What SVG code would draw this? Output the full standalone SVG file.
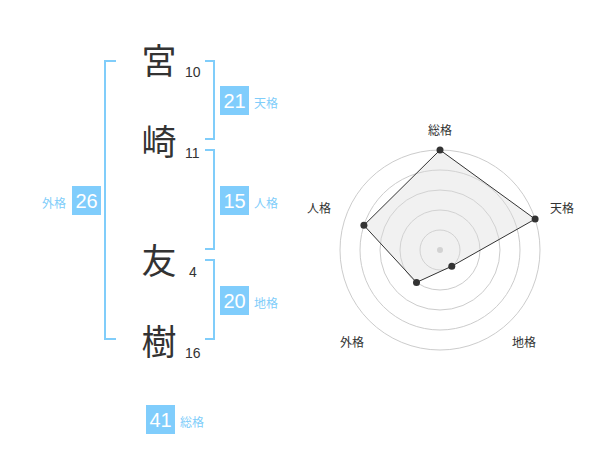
<svg xmlns="http://www.w3.org/2000/svg" width="600" height="470" viewBox="0 0 600 470">
<style>
.k{font-family:"Noto Sans CJK JP","Noto Sans CJK SC",sans-serif;font-size:35px;fill:#333;text-anchor:middle}
.n{font-family:"Liberation Sans",Arial,sans-serif;font-size:14px;fill:#333}
.br{fill:none;stroke:#80cdfa;stroke-width:2}
.box{fill:#80cdfc}
.bv{font-family:"Liberation Sans",Arial,sans-serif;font-size:20px;fill:#fff;text-anchor:middle}
.bl{font-family:"Noto Sans CJK JP","Noto Sans CJK SC",sans-serif;font-size:12px;fill:#80cdfa}
.rl{font-family:"Noto Sans CJK JP","Noto Sans CJK SC",sans-serif;font-size:12px;fill:#333;text-anchor:middle}
.ring{fill:none;stroke:#ccc;stroke-width:1}
</style>
<rect width="600" height="470" fill="#fff"/>
<g id="name">
<text class="k" x="159" y="74">宮</text><text class="n" x="185" y="77">10</text>
<text class="k" x="159" y="155">崎</text><text class="n" x="185" y="158">11</text>
<text class="k" x="159" y="274">友</text><text class="n" x="189" y="277">4</text>
<text class="k" x="159" y="355">樹</text><text class="n" x="185" y="358">16</text>
</g>
<g id="brackets">
<path class="br" d="M116,61 H105 V339 H116"/>
<path class="br" d="M205,61 H214 V139 H205"/>
<path class="br" d="M205,150 H214 V249 H205"/>
<path class="br" d="M205,260 H214 V339 H205"/>
</g>
<g id="tenkaku"><rect class="box" x="220" y="86" width="29" height="29"/><text class="bv" x="234.5" y="108">21</text><text class="bl" x="254" y="108">天格</text></g>
<g id="jinkaku"><rect class="box" x="220" y="186" width="29" height="29"/><text class="bv" x="234.5" y="208">15</text><text class="bl" x="254" y="208">人格</text></g>
<g id="chikaku"><rect class="box" x="220" y="286" width="29" height="29"/><text class="bv" x="234.5" y="308">20</text><text class="bl" x="254" y="308">地格</text></g>
<g id="gaikaku"><rect class="box" x="72" y="186" width="29" height="29"/><text class="bv" x="86.5" y="208">26</text><text class="bl" x="66" y="208" text-anchor="end">外格</text></g>
<g id="soukaku"><rect class="box" x="146" y="405" width="29" height="29"/><text class="bv" x="160.5" y="427">41</text><text class="bl" x="180" y="427">総格</text></g>
<g id="radar">
<circle class="ring" cx="440" cy="250" r="20"/>
<circle class="ring" cx="440" cy="250" r="40"/>
<circle class="ring" cx="440" cy="250" r="60"/>
<circle class="ring" cx="440" cy="250" r="80"/>
<circle class="ring" cx="440" cy="250" r="100"/>
<circle cx="440" cy="250" r="3" fill="#ccc"/>
<polygon points="440,150 535.1,219.1 451.8,266.2 416.5,282.4 363.9,225.3" fill="#ddd" fill-opacity="0.4" stroke="#333" stroke-width="1"/>
<g fill="#333">
<circle cx="440" cy="150" r="3.5"/>
<circle cx="535.1" cy="219.1" r="3.5"/>
<circle cx="451.8" cy="266.2" r="3.5"/>
<circle cx="416.5" cy="282.4" r="3.5"/>
<circle cx="363.9" cy="225.3" r="3.5"/>
</g>
<text class="rl" x="440" y="135">総格</text>
<text class="rl" x="562" y="213">天格</text>
<text class="rl" x="524" y="347">地格</text>
<text class="rl" x="352" y="347">外格</text>
<text class="rl" x="319" y="213">人格</text>
</g>
</svg>
